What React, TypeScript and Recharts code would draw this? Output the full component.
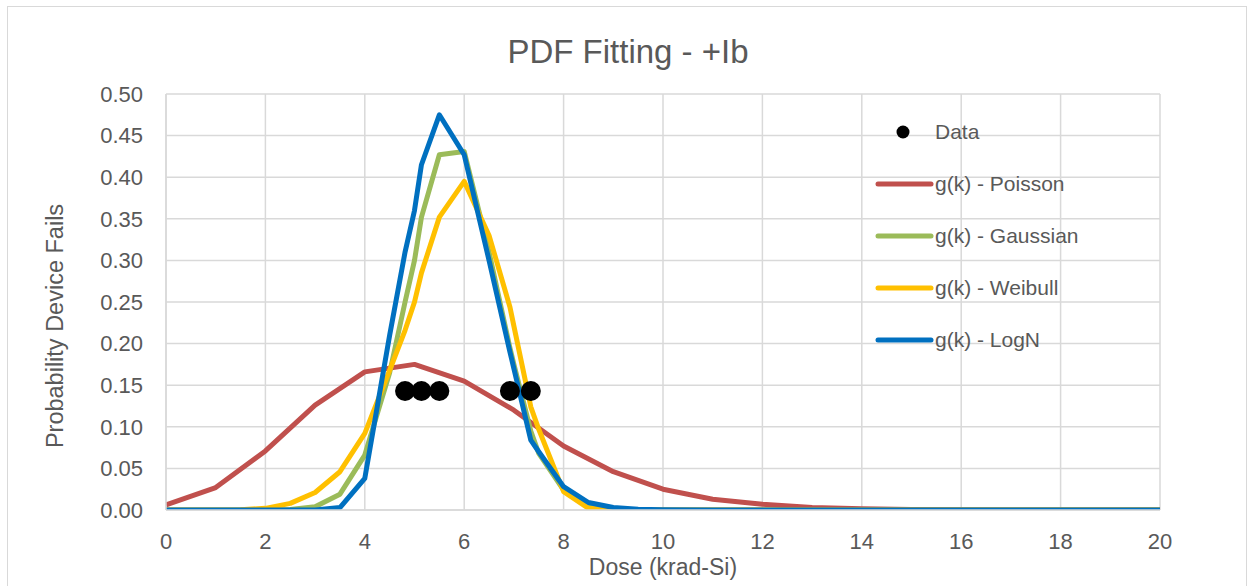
import React from 'react';
import { ComposedChart, Line, Scatter, XAxis, YAxis, CartesianGrid } from 'recharts';

// dose values (krad-Si) where the fitted curves were evaluated
const doseGrid = [
  0, 0.5, 1, 1.5, 2, 2.5, 3, 3.5, 4, 4.5, 4.81, 5, 5.14, 5.5, 6, 6.5, 6.92, 7, 7.34, 7.5,
  8, 8.5, 9, 9.5, 10, 11, 12, 13, 14, 15, 16, 17, 18, 19, 20,
];
const gaussian = [
  0, 0, 0, 0, 0, 0.0006, 0.004, 0.019, 0.066, 0.165, 0.25, 0.3, 0.352, 0.427, 0.431, 0.31, 0.195, 0.175, 0.095, 0.068,
  0.024, 0.004, 0.0007, 0.0001, 0, 0, 0, 0, 0, 0, 0, 0, 0, 0, 0,
];
const weibull = [
  0, 0, 0, 0.0003, 0.002, 0.008, 0.021, 0.046, 0.092, 0.168, 0.216, 0.25, 0.285, 0.352, 0.395, 0.33, 0.244, 0.221, 0.124, 0.097,
  0.022, 0.002, 0.0002, 0, 0, 0, 0, 0, 0, 0, 0, 0, 0, 0, 0,
];
const logN = [
  0, 0, 0, 0, 0, 0, 0, 0.003, 0.038, 0.21, 0.31, 0.36, 0.415, 0.475, 0.427, 0.3, 0.19, 0.17, 0.084, 0.07,
  0.028, 0.009, 0.003, 0.001, 0.0004, 0.0001, 0, 0, 0, 0, 0, 0, 0, 0, 0,
];

// poisson is discrete, integer doses only
const poissonDose = [0, 1, 2, 3, 4, 5, 6, 7, 8, 9, 10, 11, 12, 13, 14, 15, 16, 17, 18, 19, 20];
const poisson = [
  0.006, 0.027, 0.071, 0.126, 0.166, 0.175, 0.155, 0.12, 0.077, 0.046, 0.025, 0.013, 0.007, 0.003, 0.0015, 0.0007,
  0.0003, 0.0001, 0.0001, 0, 0,
];

// measured failures
const dataDose = [4.81, 5.14, 5.5, 6.92, 7.34];
const dataProb = [0.143, 0.143, 0.143, 0.143, 0.143];

const xTicks = [0, 2, 4, 6, 8, 10, 12, 14, 16, 18, 20];
const yTicks = [0, 0.05, 0.1, 0.15, 0.2, 0.25, 0.3, 0.35, 0.4, 0.45, 0.5];

const toPoints = (xs: number[], ys: number[]) => xs.map((x, i) => ({ dose: x, p: ys[i] }));

const FONT = '"Liberation Sans", Arial, sans-serif';
const TEXT = '#595959';
const GRID = '#D9D9D9';

const series = [
  { name: 'g(k) - Poisson', color: '#C0504D', xs: poissonDose, ys: poisson },
  { name: 'g(k) - Gaussian', color: '#9BBB59', xs: doseGrid, ys: gaussian },
  { name: 'g(k) - Weibull', color: '#FFC000', xs: doseGrid, ys: weibull },
  { name: 'g(k) - LogN', color: '#0070C0', xs: doseGrid, ys: logN },
];

const LegendBox = () => (
  <div style={{ position: 'absolute', left: 870, top: 106, fontFamily: FONT, fontSize: 21, color: TEXT }}>
    <div style={{ display: 'flex', alignItems: 'center', height: 52 }}>
      <svg width={65} height={20}>
        <circle cx={33} cy={10} r={6.5} fill="#000" />
      </svg>
      <span>Data</span>
    </div>
    {series.map((s) => (
      <div key={s.name} style={{ display: 'flex', alignItems: 'center', height: 52 }}>
        <svg width={65} height={20}>
          <line x1={8} y1={10} x2={61} y2={10} stroke={s.color} strokeWidth={5} strokeLinecap="round" />
        </svg>
        <span>{s.name}</span>
      </div>
    ))}
  </div>
);

const App = () => {
  return (
    <div style={{ position: 'absolute', left: 0, top: 0, width: 1250, height: 586, background: '#fff', overflow: 'hidden' }}>
      <div style={{ position: 'absolute', left: 7, top: 6, width: 1240, height: 600, border: `1.5px solid ${GRID}`, boxSizing: 'border-box' }} />
      <div style={{ position: 'absolute', left: 0, width: 1256, top: 33, textAlign: 'center', fontFamily: FONT, fontSize: 33, color: TEXT }}>
        PDF Fitting - +Ib
      </div>
      <ComposedChart width={1250} height={586} margin={{ top: 94, right: 90, bottom: 46, left: 0 }}>
        <CartesianGrid stroke={GRID} strokeWidth={1.5} />
        <XAxis
          dataKey="dose"
          type="number"
          domain={[0, 20]}
          ticks={xTicks}
          height={30}
          tickSize={0}
          tickMargin={23}
          axisLine={{ stroke: GRID, strokeWidth: 1.5 }}
          tick={{ fill: TEXT, fontSize: 22, fontFamily: FONT }}
          allowDataOverflow
        />
        <YAxis
          dataKey="p"
          type="number"
          domain={[0, 0.5]}
          ticks={yTicks}
          width={166}
          tickSize={0}
          tickMargin={23}
          axisLine={{ stroke: GRID, strokeWidth: 1.5 }}
          tick={{ fill: TEXT, fontSize: 22, fontFamily: FONT }}
          tickFormatter={(v: number) => v.toFixed(2)}
          allowDataOverflow
        />
        <Scatter
          name="Data"
          data={toPoints(dataDose, dataProb)}
          dataKey="p"
          isAnimationActive={false}
          shape={(props: any) => <circle cx={props.cx} cy={props.cy} r={10} fill="#000" />}
        />
        {series.map((s) => (
          <Line
            key={s.name}
            name={s.name}
            data={toPoints(s.xs, s.ys)}
            dataKey="p"
            type="linear"
            stroke={s.color}
            strokeWidth={5}
            strokeLinejoin="round"
            dot={false}
            activeDot={false}
            isAnimationActive={false}
          />
        ))}
      </ComposedChart>
      <LegendBox />
      <div style={{ position: 'absolute', left: 166, width: 994, top: 554, textAlign: 'center', fontFamily: FONT, fontSize: 23, color: TEXT }}>
        Dose (krad-Si)
      </div>
      <div
        style={{
          position: 'absolute',
          left: 55,
          top: 326,
          transform: 'translate(-50%, -50%) rotate(-90deg)',
          whiteSpace: 'nowrap',
          fontFamily: FONT,
          fontSize: 23.5,
          color: TEXT,
        }}
      >
        Probability Device Fails
      </div>
    </div>
  );
};

export default App;
